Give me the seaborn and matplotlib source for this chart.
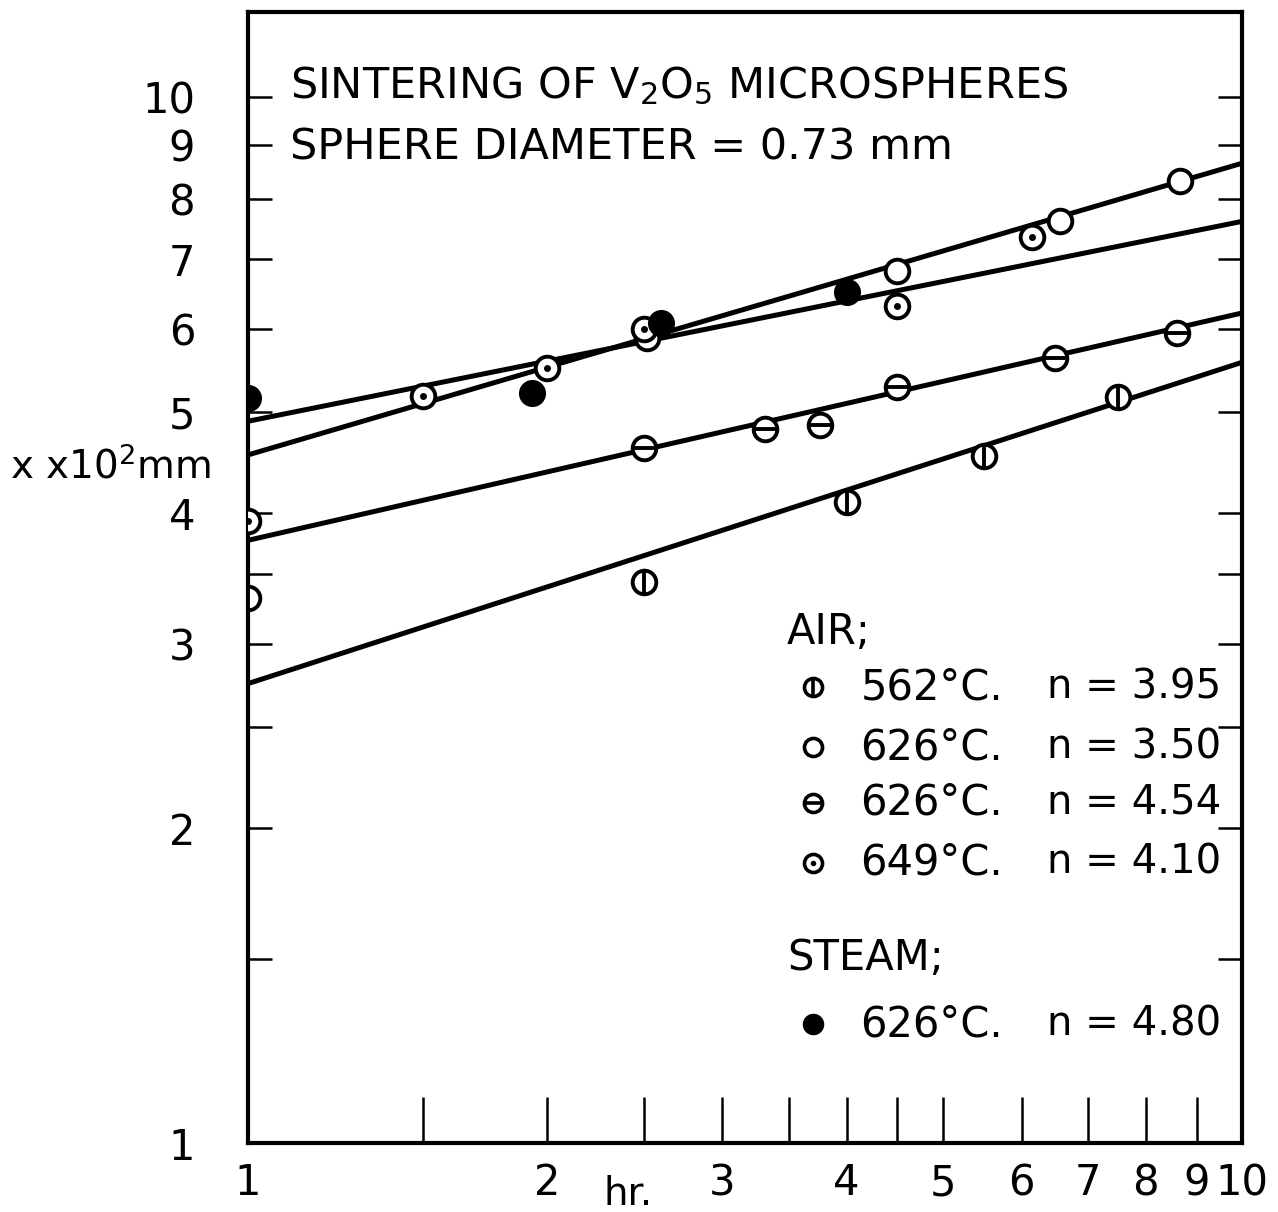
import matplotlib
matplotlib.use("Agg")
import matplotlib.pyplot as plt
import matplotlib.ticker as mticker
import seaborn as sns

# sintering time (hr) and neck size x (x10^2 mm)
t_562 = [1.0, 2.5, 4.0, 5.5, 7.5]
x_562 = [3.32, 3.44, 4.10, 4.54, 5.17]

t_626_open = [2.52, 4.5, 6.55, 8.65]
x_626_open = [5.88, 6.82, 7.61, 8.31]

t_626_bar = [2.5, 3.31, 3.76, 4.5, 6.48, 8.6]
x_626_bar = [4.62, 4.82, 4.86, 5.28, 5.63, 5.95]

t_649 = [1.0, 1.5, 2.0, 2.5, 4.5, 6.15]
x_649 = [3.93, 5.18, 5.51, 6.01, 6.31, 7.36]

t_steam = [1.0, 1.93, 2.6, 4.0]
x_steam = [5.16, 5.22, 6.09, 6.51]

# fitted straight lines: value at t = 1 hr and t = 10 hr
fit_t = [1, 10]
fit_a = [2.75, 5.58]
fit_b = [3.77, 6.22]
fit_c = [4.55, 8.65]
fit_d = [4.90, 7.61]

x_ticks = [1, 1.5, 2, 2.5, 3, 3.5, 4, 4.5, 5, 6, 7, 8, 9, 10]
y_ticks = [1, 1.5, 2, 2.5, 3, 3.5, 4, 5, 6, 7, 8, 9, 10]

air_temps = ["562°C.", "626°C.", "626°C.", "649°C."]
air_n = ["n = 3.95", "n = 3.50", "n = 4.54", "n = 4.10"]
steam_temps = ["626°C."]
steam_n = ["n = 4.80"]

sns.set_style("white")
plt.rcParams["font.family"] = ["DejaVu Sans"]
plt.rcParams["mathtext.fontset"] = "dejavusans"
plt.rcParams["text.color"] = "black"

fig = plt.figure(figsize=(12.78, 12.12), dpi=100)
ax = fig.add_axes([0.194, 0.0569, 0.778, 0.933])
ax.set_xscale("log")
ax.set_yscale("log")

MS = 17      # marker diameter, pt
EW = 2.8     # marker edge width

for fit in [fit_a, fit_b, fit_c, fit_d]:
    sns.lineplot(x=fit_t, y=fit, color="black", lw=3.6, ax=ax)


def ring(t, x, size=MS, lw=EW, z=3):
    sns.scatterplot(x=t, y=x, marker="o", s=size ** 2, facecolor="white",
                    edgecolor="black", linewidth=lw, ax=ax, zorder=z, clip_on=True)


# 562 C: circle with vertical bar
ring(t_562, x_562)
sns.scatterplot(x=t_562, y=x_562, marker="|", s=MS ** 2, color="black",
                linewidth=EW, ax=ax, zorder=4, clip_on=True)

# 626 C with horizontal bar
ring(t_626_bar, x_626_bar)
sns.scatterplot(x=t_626_bar, y=x_626_bar, marker="_", s=MS ** 2, color="black",
                linewidth=EW, ax=ax, zorder=4, clip_on=True)

# 626 C open
ring(t_626_open, x_626_open)

# 649 C dotted circle
ring(t_649, x_649, z=5)
sns.scatterplot(x=t_649, y=x_649, marker="o", s=5 ** 2, color="black",
                linewidth=0, ax=ax, zorder=6, clip_on=True)

# steam
sns.scatterplot(x=t_steam, y=x_steam, marker="o", s=(MS + 2.5) ** 2, color="black",
                linewidth=0, ax=ax, zorder=7, clip_on=True)

ax.set_xlim(1, 10)
ax.set_ylim(1, 12.06)

int_fmt = mticker.FuncFormatter(lambda v, p: f"{v:g}" if float(v).is_integer() else "")
ax.xaxis.set_major_locator(mticker.FixedLocator(x_ticks))
ax.xaxis.set_major_formatter(int_fmt)
ax.xaxis.set_minor_locator(mticker.NullLocator())
ax.yaxis.set_major_locator(mticker.FixedLocator(y_ticks))
ax.yaxis.set_major_formatter(int_fmt)
ax.yaxis.set_minor_locator(mticker.NullLocator())

ax.tick_params(axis="x", direction="in", length=33, width=1.8, pad=14,
               labelsize=30, colors="black", bottom=True, top=False)
ax.tick_params(axis="y", direction="in", length=17, width=1.8, pad=38,
               labelsize=30, colors="black", left=True, right=True)
for s in ax.spines.values():
    s.set_color("black")
    s.set_linewidth(3)
ax.set_xlabel("")
ax.set_ylabel("")

ax.text(0.382, -0.045, "hr.", transform=ax.transAxes, ha="center", va="center",
        fontsize=28)
ax.text(-0.239, 0.598, "x x10$^2$mm", transform=ax.transAxes, ha="left",
        va="center", fontsize=28)

ax.text(0.042, 0.935, "SINTERING OF V$_2$O$_5$ MICROSPHERES", transform=ax.transAxes,
        ha="left", va="center", fontsize=31)
ax.text(0.042, 0.880, "SPHERE DIAMETER = 0.73 mm", transform=ax.transAxes,
        ha="left", va="center", fontsize=31)

# key
LMS = 13
KX = 0.568
ax.text(0.542, 0.452, "AIR;", transform=ax.transAxes, ha="left", va="center",
        fontsize=30)
rows_y = [0.403, 0.350, 0.301, 0.248]
for i, (temp, n) in enumerate(zip(air_temps, air_n)):
    y = rows_y[i]
    ax.scatter([KX], [y], s=LMS ** 2, marker="o", facecolor="white",
               edgecolor="black", linewidth=2.6, transform=ax.transAxes, zorder=8)
    if i == 0:
        ax.scatter([KX], [y], s=LMS ** 2, marker="|", color="black",
                   linewidth=2.6, transform=ax.transAxes, zorder=9)
    elif i == 2:
        ax.scatter([KX], [y], s=LMS ** 2, marker="_", color="black",
                   linewidth=2.6, transform=ax.transAxes, zorder=9)
    elif i == 3:
        ax.scatter([KX], [y], s=4 ** 2, marker="o", color="black",
                   linewidth=0, transform=ax.transAxes, zorder=9)
    ax.text(0.616, y, temp, transform=ax.transAxes, ha="left", va="center",
            fontsize=30)
    ax.text(0.804, y, n, transform=ax.transAxes, ha="left", va="center",
            fontsize=29)

ax.text(0.542, 0.164, "STEAM;", transform=ax.transAxes, ha="left", va="center",
        fontsize=30)
ax.scatter([KX], [0.105], s=(LMS + 2.5) ** 2, marker="o", color="black",
           linewidth=0, transform=ax.transAxes, zorder=8)
ax.text(0.616, 0.105, steam_temps[0], transform=ax.transAxes, ha="left",
        va="center", fontsize=30)
ax.text(0.804, 0.105, steam_n[0], transform=ax.transAxes, ha="left",
        va="center", fontsize=29)

fig.savefig("out.png", dpi=100, facecolor="white")
